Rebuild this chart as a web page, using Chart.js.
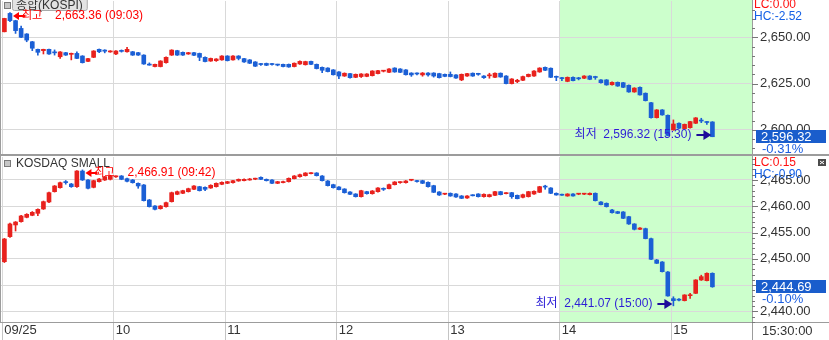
<!DOCTYPE html>
<html>
<head>
<meta charset="utf-8">
<script src="https://cdn.jsdelivr.net/npm/chart.js@4.4.1/dist/chart.umd.min.js"></script>
<style>
    html, body { margin: 0; padding: 0; background: #fff; }
    #wrap { position: relative; width: 829px; height: 340px; overflow: hidden; }
    #wrap canvas { position: absolute; left: 0; }
    #kospiCanvas { top: 0; }
    #kosdaqCanvas { top: 156px; }
</style>
</head>
<body>
<div id="wrap">
    <canvas id="kospiCanvas" width="829" height="156"></canvas>
    <canvas id="kosdaqCanvas" width="829" height="184"></canvas>
</div>
<script>
// 3-minute bars, 09:00 .. 15:18 plus the 15:30 closing bar
const hourLabels = ['09/25', '10', '11', '12', '13', '14', '15'];
const barMinutes = 3;
const closeTime = '15:30';
const endLabel = '15:30:00';

const kospiMajorTicks = [2600, 2625, 2650];
const kosdaqMajorTicks = [2440, 2445, 2450, 2455, 2460, 2465];
const kospiChange = '-0.31%';
const kosdaqChange = '-0.10%';

const kospiOpen = [
    2653.0, 2662.9, 2659.0, 2654.8, 2651.8, 2647.6, 2643.5, 2642.8, 2643.5, 2641.9,
    2639.5, 2641.7, 2640.8, 2641.3, 2639.9, 2637.0, 2639.2, 2643.5, 2643.1, 2642.1,
    2641.0, 2642.8, 2642.2, 2642.2, 2641.7, 2640.4, 2635.2, 2634.2, 2634.2, 2636.3,
    2640.4, 2642.8, 2641.9, 2641.0, 2641.7, 2641.3, 2639.2, 2637.2, 2637.4, 2637.8,
    2639.9, 2637.8, 2639.9, 2638.5, 2637.8, 2636.7, 2635.5, 2635.9, 2635.4, 2635.1,
    2635.4, 2635.4, 2634.2, 2635.6, 2635.2, 2637.0, 2635.4, 2633.8, 2633.4, 2632.4,
    2631.3, 2629.1, 2630.4, 2628.4, 2628.8, 2628.9, 2629.3, 2630.4, 2631.7, 2631.1,
    2633.4, 2632.9, 2632.4, 2630.7, 2630.3, 2629.7, 2630.7, 2630.7, 2630.4, 2630.0,
    2630.0, 2629.7, 2627.0, 2629.1, 2630.6, 2630.1, 2629.1, 2629.2, 2628.4, 2630.6,
    2629.1, 2625.0, 2626.1, 2626.8, 2628.8, 2629.1, 2631.3, 2633.8, 2633.3, 2628.8,
    2628.2, 2626.2, 2628.4, 2627.8, 2627.9, 2629.1, 2628.8, 2627.0, 2627.0, 2624.4,
    2625.7, 2625.5, 2624.1, 2620.5, 2623.0, 2619.8, 2614.7, 2606.6, 2610.8, 2607.9,
    2600.0, 2603.6, 2600.7, 2601.2, 2603.6, 2605.0, 2604.5, 2604.3
];
const kospiHigh = [
    2660.3, 2663.36, 2659.2, 2656.1, 2652.0, 2647.8, 2643.7, 2643.6, 2643.7, 2643.2,
    2642.3, 2641.9, 2641.5, 2642.2, 2640.1, 2638.7, 2642.8, 2643.7, 2643.3, 2642.8,
    2642.8, 2643.2, 2644.6, 2642.4, 2641.9, 2640.6, 2636.2, 2635.6, 2637.4, 2639.4,
    2643.3, 2643.0, 2642.1, 2641.9, 2641.9, 2641.5, 2639.4, 2638.8, 2638.5, 2640.1,
    2640.1, 2640.1, 2640.1, 2638.7, 2638.0, 2636.9, 2636.0, 2636.1, 2636.0, 2635.5,
    2635.6, 2635.6, 2636.2, 2637.3, 2637.1, 2637.2, 2635.6, 2634.0, 2633.6, 2632.6,
    2631.5, 2630.8, 2630.6, 2630.2, 2630.4, 2630.4, 2632.0, 2632.2, 2632.0, 2633.1,
    2633.6, 2633.1, 2632.6, 2630.9, 2630.8, 2631.0, 2630.9, 2630.9, 2630.6, 2630.2,
    2631.3, 2629.9, 2630.2, 2630.6, 2630.8, 2630.6, 2629.3, 2630.6, 2630.8, 2630.8,
    2629.3, 2627.7, 2627.3, 2629.0, 2630.2, 2632.0, 2633.6, 2634.0, 2633.5, 2629.1,
    2628.4, 2628.6, 2628.6, 2628.4, 2629.3, 2629.3, 2629.0, 2627.2, 2627.2, 2625.9,
    2625.9, 2625.7, 2624.3, 2622.8, 2623.2, 2620.0, 2614.9, 2611.0, 2611.0, 2608.1,
    2605.4, 2603.8, 2603.2, 2604.7, 2606.7, 2606.3, 2604.7, 2604.5
];
const kospiLow = [
    2652.9, 2658.5, 2652.1, 2649.8, 2647.6, 2642.8, 2640.4, 2641.0, 2640.8, 2640.4,
    2638.6, 2640.2, 2637.8, 2638.4, 2636.1, 2636.8, 2639.0, 2641.7, 2641.6, 2641.9,
    2640.6, 2642.0, 2642.0, 2640.2, 2640.2, 2635.4, 2634.9, 2634.0, 2634.0, 2636.1,
    2640.2, 2640.2, 2640.2, 2640.8, 2640.1, 2637.4, 2636.7, 2637.0, 2637.0, 2637.6,
    2637.2, 2637.6, 2637.8, 2636.5, 2635.8, 2634.2, 2634.8, 2634.7, 2634.9, 2634.6,
    2634.0, 2633.8, 2634.0, 2635.4, 2635.0, 2635.2, 2632.9, 2630.9, 2631.3, 2629.6,
    2627.7, 2628.9, 2628.0, 2628.2, 2628.3, 2628.7, 2629.1, 2630.2, 2631.3, 2630.9,
    2631.1, 2630.9, 2629.6, 2628.9, 2629.7, 2629.0, 2629.0, 2628.5, 2628.0, 2628.7,
    2628.6, 2627.8, 2626.6, 2628.9, 2628.9, 2629.5, 2627.8, 2627.9, 2628.2, 2628.4,
    2624.8, 2624.8, 2625.5, 2626.6, 2628.6, 2628.9, 2631.1, 2632.0, 2628.2, 2626.6,
    2626.6, 2626.0, 2626.4, 2627.0, 2627.7, 2627.1, 2627.3, 2625.3, 2624.1, 2624.2,
    2623.5, 2622.8, 2620.3, 2620.3, 2618.7, 2615.6, 2606.4, 2606.4, 2607.9, 2596.8,
    2599.8, 2600.7, 2600.5, 2601.0, 2603.4, 2603.9, 2603.0, 2596.32
];
const kospiClose = [
    2660.2, 2659.0, 2653.6, 2650.0, 2648.5, 2644.1, 2641.9, 2643.5, 2641.0, 2641.6,
    2642.1, 2640.4, 2641.3, 2638.6, 2636.3, 2638.5, 2642.6, 2642.2, 2642.5, 2642.6,
    2642.6, 2642.4, 2643.5, 2640.4, 2640.4, 2635.6, 2635.0, 2635.4, 2637.2, 2639.2,
    2643.1, 2640.4, 2640.4, 2641.7, 2640.3, 2639.2, 2636.9, 2638.6, 2638.3, 2639.9,
    2637.4, 2639.9, 2638.6, 2636.7, 2636.0, 2634.4, 2635.3, 2634.9, 2635.3, 2635.0,
    2634.2, 2634.0, 2636.0, 2637.0, 2636.9, 2635.4, 2633.1, 2632.2, 2631.5, 2629.8,
    2629.1, 2630.6, 2628.2, 2630.0, 2630.2, 2630.2, 2631.8, 2632.0, 2631.8, 2632.9,
    2631.3, 2631.1, 2629.8, 2629.7, 2630.2, 2630.7, 2629.7, 2629.1, 2628.2, 2628.9,
    2628.8, 2628.0, 2630.0, 2630.4, 2629.1, 2630.0, 2628.2, 2629.4, 2630.6, 2628.6,
    2625.0, 2627.5, 2626.8, 2628.8, 2630.0, 2631.8, 2633.4, 2632.2, 2628.4, 2628.4,
    2627.7, 2628.4, 2626.6, 2627.6, 2629.1, 2627.3, 2628.3, 2625.5, 2624.3, 2625.7,
    2623.7, 2623.0, 2620.5, 2622.6, 2618.9, 2615.8, 2606.6, 2610.8, 2608.1, 2597.0,
    2603.2, 2600.9, 2603.0, 2604.5, 2606.5, 2604.8, 2604.0, 2596.32
];

const kosdaqOpen = [
    2449.47, 2454.23, 2456.45, 2457.08, 2457.90, 2458.28, 2458.66, 2459.49, 2460.82, 2462.78,
    2463.54, 2464.60, 2464.24, 2463.73, 2466.70, 2465.00, 2463.60, 2464.68, 2465.00, 2465.13,
    2465.60, 2465.76, 2465.25, 2465.00, 2464.37, 2464.05, 2461.20, 2460.06, 2459.55, 2459.93,
    2460.88, 2462.28, 2462.47, 2462.78, 2463.23, 2463.73, 2463.60, 2463.48, 2463.73, 2464.18,
    2464.37, 2464.49, 2464.81, 2464.87, 2465.00, 2465.15, 2465.51, 2465.13, 2465.00, 2464.37,
    2464.50, 2464.68, 2465.25, 2465.63, 2465.82, 2466.20, 2466.33, 2465.76, 2464.81, 2464.11,
    2463.67, 2463.29, 2462.72, 2462.34, 2461.83, 2462.78, 2462.40, 2462.78, 2463.42, 2463.35,
    2464.11, 2464.50, 2464.49, 2464.95, 2464.80, 2464.87, 2464.56, 2463.92, 2462.72, 2462.30,
    2462.47, 2462.34, 2461.96, 2461.58, 2462.10, 2462.34, 2461.83, 2461.83, 2462.08, 2462.78,
    2462.40, 2462.59, 2462.08, 2461.70, 2461.83, 2462.34, 2462.66, 2463.75, 2463.48, 2462.47,
    2462.20, 2461.96, 2462.34, 2462.30, 2462.30, 2462.21, 2462.47, 2460.82, 2460.56, 2459.30,
    2458.98, 2458.92, 2458.03, 2456.64, 2455.62, 2455.75, 2453.85, 2449.79, 2449.41, 2447.51,
    2442.44, 2442.25, 2442.06, 2443.00, 2443.45, 2445.99, 2445.86, 2447.26
];
const kosdaqHigh = [
    2453.90, 2456.80, 2457.10, 2458.30, 2458.60, 2459.00, 2459.50, 2461.00, 2462.70, 2463.95,
    2464.60, 2464.90, 2464.35, 2466.80, 2466.91, 2465.10, 2464.95, 2465.30, 2465.70, 2465.90,
    2465.80, 2465.85, 2465.35, 2465.10, 2464.45, 2464.15, 2461.30, 2460.15, 2460.15, 2460.80,
    2462.70, 2462.90, 2463.05, 2463.45, 2463.95, 2463.80, 2463.70, 2464.10, 2464.45, 2464.65,
    2464.75, 2464.95, 2465.20, 2465.20, 2465.30, 2465.35, 2465.60, 2465.20, 2465.10, 2464.75,
    2464.80, 2465.40, 2465.85, 2466.10, 2466.40, 2466.39, 2466.40, 2465.85, 2464.90, 2464.20,
    2463.75, 2463.35, 2462.80, 2462.40, 2463.05, 2462.85, 2463.00, 2463.55, 2463.50, 2464.20,
    2464.70, 2464.68, 2464.90, 2465.10, 2464.95, 2464.95, 2464.65, 2464.00, 2462.80, 2462.47,
    2462.55, 2462.40, 2462.05, 2462.05, 2462.21, 2462.40, 2462.35, 2462.30, 2462.85, 2462.85,
    2462.59, 2462.65, 2462.15, 2462.30, 2462.85, 2462.95, 2463.80, 2464.00, 2463.55, 2462.55,
    2462.30, 2462.40, 2462.40, 2462.45, 2462.47, 2462.55, 2462.55, 2460.90, 2460.65, 2459.40,
    2459.05, 2459.00, 2458.10, 2456.70, 2455.95, 2455.85, 2453.95, 2449.90, 2449.50, 2447.60,
    2442.80, 2442.45, 2443.20, 2443.45, 2446.05, 2446.90, 2447.35, 2447.35
];
const kosdaqLow = [
    2449.30, 2454.10, 2455.30, 2457.00, 2457.80, 2458.20, 2458.22, 2459.40, 2460.70, 2462.70,
    2463.45, 2464.20, 2463.60, 2463.60, 2464.90, 2463.30, 2463.50, 2464.60, 2464.90, 2465.00,
    2465.50, 2465.05, 2464.65, 2464.40, 2463.42, 2461.00, 2459.85, 2459.30, 2459.45, 2459.85,
    2460.80, 2462.20, 2462.40, 2462.70, 2463.15, 2462.90, 2462.97, 2463.40, 2463.65, 2464.10,
    2464.30, 2464.40, 2464.75, 2464.80, 2464.95, 2465.05, 2465.05, 2464.80, 2464.30, 2464.30,
    2464.45, 2464.60, 2465.20, 2465.55, 2465.75, 2466.14, 2465.75, 2464.80, 2463.85, 2463.45,
    2463.10, 2462.50, 2462.20, 2461.75, 2461.75, 2462.30, 2462.30, 2462.70, 2463.00, 2463.30,
    2464.05, 2464.37, 2464.40, 2464.85, 2464.60, 2464.30, 2463.65, 2462.60, 2462.05, 2462.21,
    2461.90, 2461.70, 2461.45, 2461.50, 2461.96, 2461.75, 2461.75, 2461.75, 2462.00, 2462.15,
    2462.34, 2461.51, 2461.40, 2461.60, 2461.75, 2462.25, 2462.60, 2463.23, 2462.40, 2462.10,
    2462.05, 2461.90, 2461.90, 2462.20, 2462.21, 2462.15, 2461.00, 2460.25, 2459.85, 2458.70,
    2458.60, 2457.65, 2456.55, 2455.50, 2455.55, 2453.80, 2449.85, 2449.10, 2447.50, 2442.90,
    2441.07, 2442.00, 2442.00, 2442.50, 2443.40, 2445.90, 2445.80, 2444.60
];
const kosdaqClose = [
    2453.78, 2456.64, 2457.01, 2458.16, 2458.47, 2458.85, 2459.42, 2460.88, 2462.59, 2463.86,
    2464.49, 2464.50, 2463.73, 2466.71, 2465.00, 2463.42, 2464.87, 2465.19, 2465.63, 2465.76,
    2465.70, 2465.13, 2464.75, 2464.49, 2463.86, 2461.07, 2459.93, 2459.42, 2460.06, 2460.69,
    2462.59, 2462.78, 2462.97, 2463.35, 2463.86, 2462.97, 2463.23, 2463.99, 2464.37, 2464.56,
    2464.68, 2464.87, 2465.13, 2465.13, 2465.19, 2465.22, 2465.13, 2464.87, 2464.37, 2464.68,
    2464.70, 2465.32, 2465.76, 2466.01, 2466.33, 2466.30, 2465.82, 2464.87, 2463.92, 2463.54,
    2463.16, 2462.59, 2462.28, 2461.83, 2462.97, 2462.40, 2462.91, 2463.48, 2463.23, 2464.11,
    2464.62, 2464.60, 2464.81, 2465.00, 2464.70, 2464.37, 2463.73, 2462.66, 2462.15, 2462.40,
    2461.96, 2461.77, 2461.51, 2461.96, 2462.00, 2461.83, 2462.28, 2462.21, 2462.78, 2462.21,
    2462.50, 2461.83, 2461.45, 2462.21, 2462.78, 2462.85, 2463.73, 2463.65, 2462.47, 2462.15,
    2462.10, 2462.34, 2461.96, 2462.35, 2462.40, 2462.47, 2461.07, 2460.31, 2459.93, 2458.79,
    2458.66, 2457.71, 2456.64, 2455.62, 2455.87, 2453.85, 2449.92, 2449.16, 2447.57, 2442.95,
    2442.06, 2442.15, 2443.14, 2443.10, 2445.99, 2446.62, 2447.26, 2444.69
];

const FONT = "'Liberation Sans', 'Noto Sans CJK KR', sans-serif";
const UP = '#e8211d';
const DOWN = '#1b5fd5';
const GRID = '#d9d9d9';
const FRAME = '#9c9c9c';

const barsPerHour = 60 / barMinutes;
const xMin = -0.79;
const xMax = 134.1;

// gridline of hour k sits just left of that hour's first bar
function hourTick(k) {
    return k * barsPerHour - 0.4;
}

function fmt2(v) {
    return v.toLocaleString('en-US', { minimumFractionDigits: 2, maximumFractionDigits: 2 });
}

function barTime(i, count) {
    if (i === count - 1) return closeTime;
    const m = 9 * 60 + i * barMinutes;
    return String(Math.floor(m / 60)).padStart(2, '0') + ':' + String(m % 60).padStart(2, '0');
}

function stepTicks(from, to, step) {
    const out = [];
    for (let v = from; v <= to; v += step) out.push(v);
    return out;
}

function candleSets(open, high, low, close) {
    const colors = close.map((c, i) => (c >= open[i] ? UP : DOWN));
    return [
        {
            label: 'wick',
            data: high.map((h, i) => ({ x: i, y: [low[i], h] })),
            backgroundColor: colors,
            barThickness: 1,
            minBarLength: 1,
            grouped: false,
            order: 2
        },
        {
            label: 'body',
            data: open.map((o, i) => ({ x: i, y: [o, close[i]] })),
            backgroundColor: colors,
            barThickness: 4,
            minBarLength: 1,
            grouped: false,
            order: 1
        }
    ];
}

function leftArrow(ctx, tip, y) {
    ctx.beginPath();
    ctx.moveTo(tip, y);
    ctx.lineTo(tip + 6, y - 4);
    ctx.lineTo(tip + 6, y + 4);
    ctx.closePath();
    ctx.fill();
    ctx.fillRect(tip + 5, y - 1, 7, 2);
}

function rightArrow(ctx, tip, y) {
    ctx.fillRect(tip - 15, y - 1, 8, 2);
    ctx.beginPath();
    ctx.moveTo(tip, y);
    ctx.lineTo(tip - 8, y - 5);
    ctx.lineTo(tip - 8, y + 5);
    ctx.closePath();
    ctx.fill();
}

// session shading, frame, labels and markers drawn around the candles
const htsOverlay = {
    id: 'hts',
    beforeDraw(chart, args, o) {
        const { ctx, chartArea: a, scales: { x } } = chart;
        const gx = Math.round(x.getPixelForValue(o.sessionFrom));
        ctx.save();
        ctx.fillStyle = '#ccffcc';
        ctx.fillRect(gx, 0, a.right - gx, a.bottom);
        ctx.restore();
    },
    afterDraw(chart, args, o) {
        const { ctx, chartArea: a, scales: { x, y }, width, height } = chart;
        const n = o.close.length;
        const right = Math.round(a.right);
        ctx.save();
        ctx.textBaseline = 'middle';
        ctx.textAlign = 'left';

        // frame
        ctx.fillStyle = FRAME;
        ctx.fillRect(right, 0, 1, height);
        ctx.fillRect(0, 0, 1, a.bottom);
        if (o.showTime) {
            ctx.fillRect(0, Math.round(a.bottom), width, 1);
        } else {
            ctx.fillRect(0, height - 2, width, 2);
        }

        // right axis tick marks
        ctx.strokeStyle = '#777';
        ctx.lineWidth = 1;
        y.ticks.forEach(t => {
            const py = Math.round(y.getPixelForValue(t.value)) + 0.5;
            const len = o.major.includes(t.value) ? 6 : 3;
            ctx.beginPath();
            ctx.moveTo(right, py);
            ctx.lineTo(right + len, py);
            ctx.stroke();
        });

        // title
        ctx.font = '12px ' + FONT;
        if (o.titleBox) {
            const w = ctx.measureText(o.title).width + 8;
            ctx.fillStyle = '#e3e3e3';
            ctx.strokeStyle = '#a9a9a9';
            ctx.beginPath();
            ctx.roundRect(12.5, -2.5, w, o.titleY + 7, 2);
            ctx.fill();
            ctx.stroke();
        }
        ctx.fillStyle = '#c6c6c6';
        ctx.fillRect(5, o.titleY - 3, 5, 5);
        ctx.strokeStyle = '#7a7a7a';
        ctx.strokeRect(4.5, o.titleY - 3.5, 6, 6);
        ctx.fillStyle = '#333';
        ctx.fillText(o.title, 16, o.titleY);

        // day high / low
        const hiIdx = o.high.indexOf(Math.max(...o.high));
        const loIdx = o.low.indexOf(Math.min(...o.low));
        const hi = o.high[hiIdx];
        const lo = o.low[loIdx];
        const last = o.close[n - 1];

        const hx = x.getPixelForValue(hiIdx) + 3;
        const hy = Math.round(y.getPixelForValue(hi)) + 3;
        ctx.fillStyle = '#ff0000';
        leftArrow(ctx, hx, hy);
        ctx.font = '11px ' + FONT;
        ctx.fillText('최고', hx + 9, hy);
        ctx.font = '12px ' + FONT;
        ctx.fillText(fmt2(hi) + ' (' + barTime(hiIdx, n) + ')', hx + 42, hy);

        const lx = x.getPixelForValue(loIdx) - 1;
        const ly = Math.round(y.getPixelForValue(lo)) - 2;
        ctx.fillStyle = '#1d0c9a';
        rightArrow(ctx, lx, ly);
        ctx.fillStyle = '#2c1ed6';
        ctx.textAlign = 'right';
        ctx.fillText('최저  ' + fmt2(lo) + ' (' + barTime(loIdx, n) + ')', lx - 20, ly);
        ctx.textAlign = 'left';

        // LC / HC
        const lc = (last - lo) / lo * 100;
        const hc = (last - hi) / hi * 100;
        ctx.fillStyle = '#ff1010';
        ctx.fillText('LC:' + lc.toFixed(2), right + 2, o.lcY);
        ctx.fillStyle = '#1460e6';
        ctx.fillText('HC:' + hc.toFixed(2), right + 2, o.lcY + 12);

        // last price box
        const cy = y.getPixelForValue(last);
        ctx.font = '13px ' + FONT;
        ctx.fillStyle = '#1a5dcc';
        ctx.fillRect(right + 4, Math.round(cy - 6.5), 70, 13);
        ctx.fillStyle = '#fff';
        ctx.fillText(fmt2(last), right + 9, cy + 0.5);
        ctx.fillStyle = '#1c5ee0';
        ctx.fillText(o.change, right + 10, cy + 12.5);

        if (o.showTime) {
            ctx.fillStyle = '#333';
            ctx.fillText(endLabel, right + 10, a.bottom + 9);
        }

        if (o.closeButton) {
            ctx.fillStyle = '#4b4b4b';
            ctx.fillRect(818, 3, 8, 7);
            ctx.strokeStyle = '#fff';
            ctx.beginPath();
            ctx.moveTo(820, 5); ctx.lineTo(824, 8);
            ctx.moveTo(824, 5); ctx.lineTo(820, 8);
            ctx.stroke();
        }
        ctx.restore();
    }
};

function makeChart(id, cfg) {
    return new Chart(document.getElementById(id), {
        type: 'bar',
        data: { datasets: candleSets(cfg.open, cfg.high, cfg.low, cfg.close) },
        plugins: [htsOverlay],
        options: {
            responsive: false,
            animation: false,
            events: [],
            layout: { padding: { left: 0, right: 0, top: 1, bottom: cfg.showTime ? 0 : 2 } },
            plugins: {
                legend: { display: false },
                tooltip: { enabled: false },
                hts: {
                    open: cfg.open, high: cfg.high, low: cfg.low, close: cfg.close,
                    major: cfg.major, title: cfg.title, titleBox: cfg.titleBox, titleY: cfg.titleY,
                    lcY: cfg.lcY, change: cfg.change, showTime: cfg.showTime,
                    closeButton: cfg.closeButton, sessionFrom: hourTick(5)
                }
            },
            scales: {
                x: {
                    type: 'linear',
                    min: xMin,
                    max: xMax,
                    offset: false,
                    grid: {
                        offset: false,
                        color: GRID,
                        drawTicks: cfg.showTime,
                        tickLength: 18,
                        tickColor: '#c4c4c4'
                    },
                    border: { display: false },
                    ticks: {
                        display: cfg.showTime,
                        align: 'start',
                        labelOffset: 2,
                        padding: -17,
                        color: '#333',
                        font: { size: 13 },
                        autoSkip: false,
                        maxRotation: 0,
                        callback: (v, i) => hourLabels[i]
                    },
                    afterBuildTicks: s => {
                        s.ticks = hourLabels.map((_, k) => ({ value: hourTick(k) }));
                    },
                    afterFit: s => {
                        s.height = cfg.showTime ? 18 : 0;
                        s.paddingLeft = 0;
                        s.paddingRight = 0;
                    }
                },
                y: {
                    type: 'linear',
                    position: 'right',
                    min: cfg.yMin,
                    max: cfg.yMax,
                    grid: {
                        drawTicks: false,
                        color: c => (c.tick && cfg.major.includes(c.tick.value) ? GRID : 'rgba(0,0,0,0)')
                    },
                    border: { display: false },
                    ticks: {
                        autoSkip: false,
                        padding: 8,
                        color: '#333',
                        font: { size: 13 },
                        callback: v => (cfg.major.includes(v) ? fmt2(v) : '')
                    },
                    afterBuildTicks: s => {
                        s.ticks = cfg.minor.map(v => ({ value: v }));
                    },
                    afterFit: s => {
                        s.width = 77;
                        s.paddingTop = 0;
                        s.paddingBottom = 0;
                    }
                }
            }
        }
    });
}

Chart.defaults.font.family = FONT;

makeChart('kospiCanvas', {
    open: kospiOpen, high: kospiHigh, low: kospiLow, close: kospiClose,
    yMin: 2587.0, yMax: 2669.6,
    major: kospiMajorTicks, minor: stepTicks(2590, 2665, 5),
    title: '종합(KOSPI)', titleBox: true, titleY: 6,
    lcY: 5, change: kospiChange, showTime: false, closeButton: false
});

makeChart('kosdaqCanvas', {
    open: kosdaqOpen, high: kosdaqHigh, low: kosdaqLow, close: kosdaqClose,
    yMin: 2438.0, yMax: 2469.37,
    major: kosdaqMajorTicks, minor: stepTicks(2438, 2469, 1),
    title: 'KOSDAQ SMALL', titleBox: false, titleY: 8,
    lcY: 7, change: kosdaqChange, showTime: true, closeButton: true
});
</script>
</body>
</html>
